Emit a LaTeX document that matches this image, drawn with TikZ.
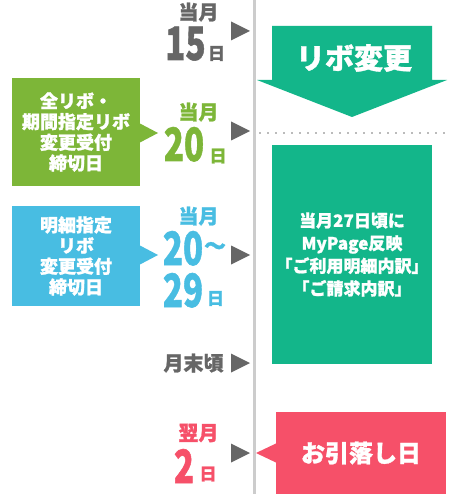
\documentclass[tikz,border=0pt]{standalone}
\usepackage{fontspec}
\setmainfont{Noto Sans CJK JP}[BoldFeatures={FakeBold=1.2}]
\usepackage{graphicx}
\definecolor{mgray}{HTML}{666666}
\definecolor{linegray}{HTML}{CCCCCC}
\definecolor{dotgray}{HTML}{BBBBBB}
\definecolor{teal1}{HTML}{13B68A}
\definecolor{lgreen}{HTML}{7DB638}
\definecolor{lblue}{HTML}{48BDE2}
\definecolor{pinkr}{HTML}{F65069}
\tikzset{
  marker/.style={fill=mgray},
  mlabel/.style={inner sep=0, font=\bfseries\fontsize{20}{20}\selectfont},
  bignum/.style={inner sep=0, anchor=base, font=\bfseries\fontsize{46}{46}\selectfont},
  dayc/.style={inner sep=0, font=\bfseries\fontsize{17}{17}\selectfont},
  sidebox/.style={inner sep=0, minimum width=128pt, align=center, text=white,
    font=\bfseries\fontsize{18}{20.7}\selectfont},
  wtext/.style={text=white, inner sep=0, align=center}
}
\newcommand{\nar}[1]{\scalebox{0.72}[1]{#1}}
\begin{document}
\begin{tikzpicture}[x=1pt,y=-1pt]
\useasboundingbox (0,0) rectangle (460,494);
\fill[white] (0,0) rectangle (460,494);
% timeline
\draw[linegray, line width=3pt] (254.5,0) -- (254.5,494);
\foreach \yy in {31,131,255,363,453}
  \fill[mgray] (231,\yy-9.5) -- (250,\yy) -- (231,\yy+9.5) -- cycle;

% dotted line at 20th
\draw[dotgray, line width=2pt, dash pattern=on 2pt off 6pt] (259,133) -- (447,133);

% big teal arrow
\fill[teal1] (272,26) -- (432,26) -- (432,80) -- (447,80) -- (352,117) -- (257,80) -- (272,80) -- cycle;
\node[wtext, font=\bfseries\fontsize{29}{29}\selectfont] (ribo) at (354,58) {リボ変更};

% teal box
\node[fill=teal1, wtext, minimum width=160pt, minimum height=219pt,
      font=\bfseries\fontsize{17}{22.7}\selectfont] (mypage) at (352,254.5)
  {当月27日頃に\\MyPage反映\\「ご利用明細内訳」\\「ご請求内訳」};

% pink box
\node[fill=pinkr, wtext, minimum width=170pt, minimum height=82pt,
      font=\bfseries\fontsize{24}{24}\selectfont] (hiki) at (361,453) {お引落し日};
\fill[pinkr] (277,443) -- (256,453) -- (277,463) -- cycle;

% left green box
\node[fill=lgreen, sidebox, minimum height=108pt] (zen) at (76,132)
  {全リボ・\\期間指定リボ\\変更受付\\締切日};
\fill[lgreen] (139,123) -- (158,133) -- (139,143) -- cycle;

% left blue box
\node[fill=lblue, sidebox, minimum height=100pt] (meisai) at (76,256)
  {明細指定\\リボ\\変更受付\\締切日};
\fill[lblue] (139,245) -- (158,255) -- (139,265) -- cycle;

% dates
\node[mlabel, text=mgray] (t1) at (198.5,12) {当月};
\node[bignum, text=mgray] (n15) at (185.5,60) {\nar{15}};
\node[dayc, text=mgray] (d15) at (216.5,53.5) {日};

\node[mlabel, text=lgreen] (t2) at (198.5,112) {当月};
\node[bignum, text=lgreen] (n20) at (184,161) {\nar{20}};
\node[dayc, text=lgreen] (d20) at (218,156) {日};

\node[mlabel, text=lblue] (t3) at (198.5,216) {当月};
\node[bignum, text=lblue] (n20b) at (183,265) {\nar{20}};
\node[inner sep=0, text=lblue, font=\bfseries\fontsize{22}{22}\selectfont] (tl) at (215,248) {〜};
\node[bignum, text=lblue] (n29) at (183,307) {\nar{29}};
\node[dayc, text=lblue] (d29) at (215.5,298.5) {日};

\node[mlabel, text=mgray] (getsu) at (193.5,363) {月末頃};

\node[mlabel, text=pinkr] (t4) at (198.5,433) {翌月};
\node[bignum, text=pinkr] (n2) at (184,483) {\nar{2}};
\node[dayc, text=pinkr] (d2) at (208,474) {日};
\end{tikzpicture}
\end{document}
